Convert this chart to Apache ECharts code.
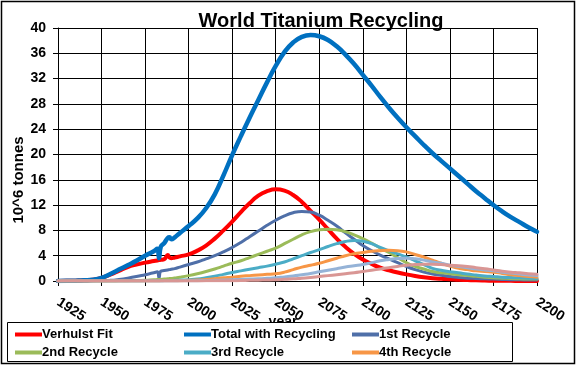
<!DOCTYPE html>
<html>
<head>
<meta charset="utf-8">
<script src="https://cdn.jsdelivr.net/npm/echarts@6/dist/echarts.min.js"></script>
<style>
html,body{margin:0;padding:0;background:#fff;}
#chart{width:576px;height:365px;}
</style>
</head>
<body>
<div id="chart"></div>
<script>
const years = [1925,1930,1935,1940,1945,1950,1955,1960,1965,1970,1975,1980,
  1982,1983,1984,1986,1988,1989,1990,1992,1995,
  2000,2005,2010,2015,2020,2025,2030,2035,2040,2045,
  2050,2055,2060,2065,2070,2075,2080,2085,2090,2095,
  2100,2105,2110,2115,2120,2125,2130,2135,2140,2145,
  2150,2155,2160,2165,2170,2175,2180,2185,2190,2195,2200];

const verhulstFit = [0,0.02,0.05,0.1,0.2,0.5,1.0,1.6,2.2,2.6,2.9,3.15,
  3.25,3.3,3.35,3.45,4.1,3.7,3.6,3.7,3.9,
  4.2,4.8,5.6,6.7,8.0,9.4,10.9,12.3,13.5,14.2,
  14.5,14.3,13.6,12.5,11.1,9.7,8.2,6.7,5.4,4.3,
  3.4,2.7,2.1,1.7,1.35,1.05,0.8,0.6,0.45,0.35,
  0.28,0.2,0.15,0.1,0.07,0.05,0.03,0.02,0.01,0,0];

const totalWithRecycling = [0,0.02,0.05,0.1,0.2,0.5,1.1,1.8,2.5,3.2,4.0,4.7,
  5.1,3.6,5.4,6.0,6.8,6.9,6.6,6.9,7.6,
  8.7,9.9,11.5,13.7,16.7,19.9,22.9,25.8,28.6,31.4,
  34.0,36.2,37.7,38.6,38.9,38.7,38.1,37.1,35.8,34.3,
  32.6,30.9,29.1,27.4,25.8,24.3,22.9,21.5,20.2,19.0,
  17.8,16.6,15.4,14.2,13.1,12.0,11.0,10.1,9.3,8.5,7.8];

const recycle1 = [0,0,0,0,0,0.02,0.1,0.25,0.45,0.7,1.0,1.3,
  1.45,0.5,1.55,1.65,1.75,1.8,1.85,1.95,2.2,
  2.6,3.0,3.5,4.0,4.6,5.3,6.1,7.0,7.9,8.8,
  9.6,10.3,10.8,11.0,10.9,10.4,9.6,8.7,7.6,6.6,
  5.6,4.8,4.1,3.5,2.9,2.3,1.8,1.4,1.1,0.9,
  0.7,0.55,0.45,0.4,0.35,0.3,0.25,0.2,0.18,0.16,0.15];

const recycle2 = [0,0,0,0,0,0,0,0.02,0.05,0.08,0.12,0.2,
  0.22,0.23,0.25,0.3,0.35,0.38,0.4,0.48,0.6,
  0.85,1.15,1.5,1.9,2.35,2.8,3.2,3.7,4.2,4.7,
  5.2,5.9,6.6,7.3,7.8,8.1,8.2,8.1,7.8,7.3,
  6.7,6.0,5.2,4.5,3.7,2.9,2.3,1.9,1.5,1.3,
  1.15,1.0,0.85,0.75,0.6,0.5,0.45,0.4,0.35,0.3,0.3];

const recycle3 = [0,0,0,0,0,0,0,0,0,0.01,0.02,0.03,
  0.04,0.04,0.05,0.06,0.07,0.08,0.08,0.1,0.13,
  0.2,0.3,0.5,0.75,1.05,1.35,1.6,1.85,2.1,2.35,
  2.65,3.0,3.5,4.0,4.5,4.95,5.45,5.9,6.25,6.4,
  6.3,5.9,5.3,4.8,4.3,3.8,3.2,2.6,2.0,1.7,
  1.45,1.3,1.1,0.95,0.8,0.7,0.6,0.55,0.5,0.45,0.4];

const recycle4 = [0,0,0,0,0,0,0,0,0,0,0.01,0.01,
  0.01,0.01,0.02,0.02,0.02,0.03,0.03,0.03,0.05,
  0.1,0.15,0.25,0.35,0.5,0.6,0.75,0.85,0.95,1.05,
  1.15,1.4,1.8,2.2,2.5,2.8,3.2,3.6,4.0,4.3,
  4.5,4.7,4.8,4.85,4.8,4.6,4.2,3.8,3.3,2.8,
  2.35,2.0,1.8,1.6,1.5,1.4,1.2,1.0,0.85,0.7,0.6];

const recycle5 = [0,0,0,0,0,0,0,0,0,0,0,0,
  0,0,0,0,0.01,0.01,0.01,0.01,0.02,
  0.03,0.05,0.08,0.11,0.15,0.2,0.25,0.3,0.35,0.42,
  0.5,0.65,0.8,1.0,1.2,1.45,1.7,1.95,2.2,2.4,
  2.6,2.9,3.2,3.4,3.55,3.6,3.5,3.3,3.0,2.8,
  2.5,2.3,2.1,1.9,1.75,1.6,1.4,1.25,1.1,0.95,0.85];

const recycle6 = [0,0,0,0,0,0,0,0,0,0,0,0,
  0,0,0,0,0,0,0,0,0,
  0,0.01,0.02,0.03,0.04,0.05,0.07,0.1,0.13,0.16,
  0.2,0.27,0.35,0.45,0.55,0.7,0.85,1.0,1.15,1.3,
  1.5,1.7,1.9,2.1,2.3,2.5,2.6,2.65,2.65,2.6,
  2.5,2.4,2.3,2.1,1.95,1.75,1.55,1.4,1.3,1.15,1.05];

const seriesNames = ['Verhulst Fit','Total with Recycling','1st Recycle','2nd Recycle','3rd Recycle','4th Recycle','5th Recycle','6th Recycle'];
const seriesData = [verhulstFit,totalWithRecycling,recycle1,recycle2,recycle3,recycle4,recycle5,recycle6];
const seriesColors = ['#FF0000','#0070C0','#4F6FA8','#9BBB59','#4BACC6','#F79646','#95B3D7','#D99694'];
const seriesWidths = [4,4.5,3,3,3,3,3,3];

const FONT = 'Arial, "Liberation Sans", sans-serif';

const chart = echarts.init(document.getElementById('chart'), null, {renderer:'canvas'});

const series = seriesNames.map((n,i)=>({
  name:n,
  type:'line',
  data: years.map((y,j)=>[y, seriesData[i][j]]),
  showSymbol:false,
  symbol:'none',
  smooth:0.5,
  lineStyle:{color:seriesColors[i], width:seriesWidths[i], cap:'round', join:'round'},
  itemStyle:{color:seriesColors[i]},
  z: 2 + i,
  animation:false
}));

const legendPos = [
  ['Verhulst Fit', 15, 328],
  ['Total with Recycling', 184, 328],
  ['1st Recycle', 352, 328],
  ['2nd Recycle', 15, 346],
  ['3rd Recycle', 184, 346],
  ['4th Recycle', 352, 346]
];

const legends = legendPos.map(p=>({
  data:[p[0]],
  left:p[1], top:p[2],
  orient:'horizontal',
  padding:0,
  itemWidth:27,
  itemHeight:4,
  icon:'rect',
  selectedMode:false,
  textStyle:{fontFamily:FONT, fontWeight:'bold', fontSize:13, color:'#000', padding:[0,0,0,-5]},
  z:20
}));

const option = {
  backgroundColor:'#fff',
  animation:false,
  title:{
    text:'World Titanium Recycling',
    left:316, top:6, textAlign:'center',
    textStyle:{fontFamily:FONT, fontWeight:'bold', fontSize:20, color:'#000'}
  },
  grid:{left:58, right:39, top:28, bottom:84, containLabel:false},
  xAxis:{
    type:'value', min:1925, max:2200, interval:25,
    axisLine:{show:true, lineStyle:{color:'#000', width:1}},
    axisTick:{show:true, inside:false, length:5, lineStyle:{color:'#000'}},
    splitLine:{show:true, lineStyle:{color:'#000', width:1}},
    axisLabel:{rotate:-33, margin:20, fontFamily:FONT, fontWeight:'bold', fontSize:14, color:'#000',
      formatter:v=>String(v)}
  },
  yAxis:{
    type:'value', min:0, max:40, interval:4,
    axisLine:{show:true, lineStyle:{color:'#000', width:1}},
    axisTick:{show:true, inside:false, length:5, lineStyle:{color:'#000'}},
    splitLine:{show:true, lineStyle:{color:'#000', width:1}},
    axisLabel:{margin:12, fontFamily:FONT, fontWeight:'bold', fontSize:14, color:'#000'}
  },
  legend:legends,
  graphic:[
    {type:'text', z:1, x:19, y:180, rotation:Math.PI/2,
      style:{text:'10^6 tonnes', fill:'#000', font:'bold 15px ' + FONT, textAlign:'center', textVerticalAlign:'middle'}},
    {type:'text', z:1, x:283, y:322,
      style:{text:'year', fill:'#000', font:'bold 14px ' + FONT, textAlign:'center', textVerticalAlign:'middle'}},
    {type:'rect', z:10, shape:{x:7.5, y:322.5, width:505, height:39},
      style:{fill:'#fff', stroke:'#000', lineWidth:1}},
    {type:'rect', z:30, shape:{x:1.5, y:1.5, width:573, height:362},
      style:{fill:null, stroke:'#000', lineWidth:1.5}}
  ],
  series:series
};
chart.setOption(option);
</script>
</body>
</html>
